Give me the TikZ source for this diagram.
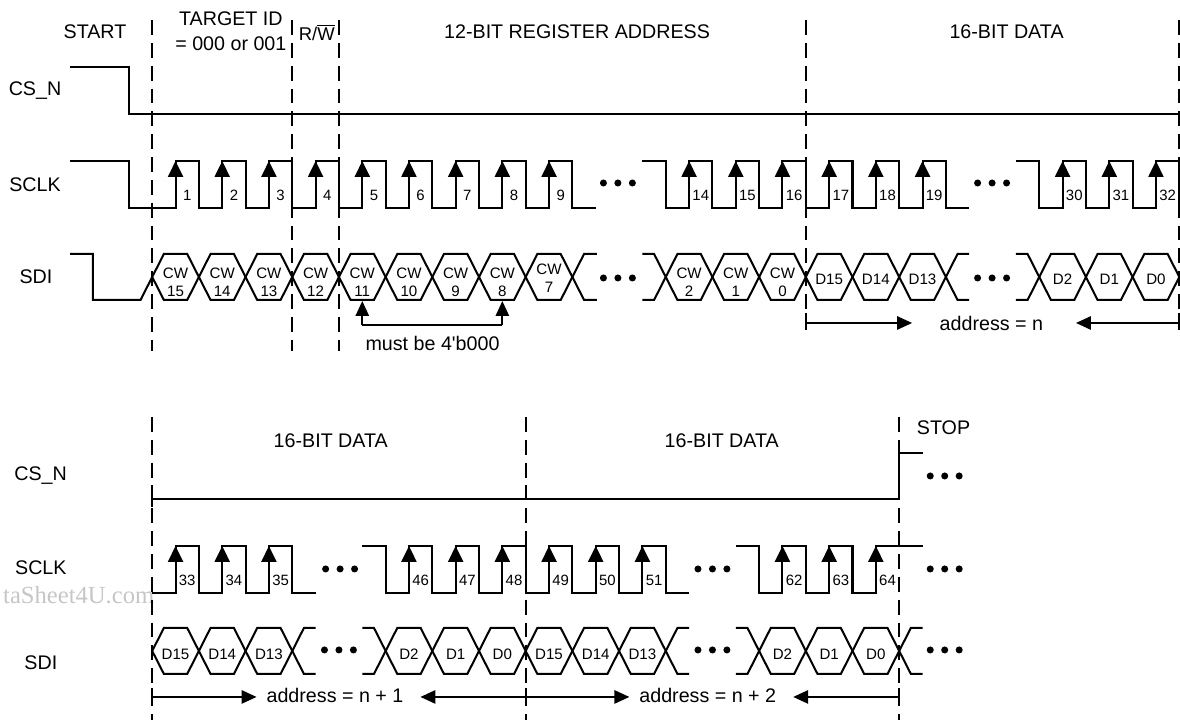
\documentclass[tikz,border=0pt]{standalone}
\usepackage{fontspec}
\setmainfont{Liberation Sans}
\newfontfamily\markfont{Liberation Serif}
\usetikzlibrary{arrows.meta}

\newcommand{\buscell}[6][0]{%
  \draw[sig] (#2,{(#3+#4)/2}) -- (#2+0.5,#3) -- (#2+1.5,#3) -- (#2+2,{(#3+#4)/2})
    -- (#2+1.5,#4) -- (#2+0.5,#4) -- cycle;
  \node[bit] (#5) at (#2+1,{(#3+#4)/2+#1}) {#6};}
\newcommand{\threedots}[2]{%
  \foreach \k in {-0.62,0,0.62}{\fill (#1+\k,#2) circle (2pt);}}

\begin{document}
\begin{tikzpicture}[x=0.467cm,y=-0.02cm,
    sig/.style={line width=1.15pt},
    guide/.style={line width=1.15pt,dash pattern=on 8.5pt off 4.5pt},
    lbl/.style={font=\fontsize{11.2}{14.5}\selectfont,inner sep=1pt},
    num/.style={font=\fontsize{8.5}{9}\selectfont,inner sep=0pt,anchor=base},
    bit/.style={font=\fontsize{8.6}{10.2}\selectfont,inner sep=0pt,align=center},
    riser/.style={line width=1.15pt,-{Triangle[length=9pt,width=8.5pt]}},
    span/.style={line width=1.15pt,-{Triangle[length=8.5pt,width=7.5pt]}}
  ]
  \useasboundingbox (-6.52,0) rectangle (44.03,720);

  \node[lbl] (start) at (-2.45,32) {START};
  \node[lbl,align=center] (target) at (3.37,31) {TARGET ID\\= 000 or 001};
  \node[lbl,font=\fontsize{10.5}{12}\selectfont] (rw) at (7.05,32) {R/$\overline{\mbox{W}}$};
  \node[lbl] (regaddr) at (18.2,32) {12-BIT REGISTER ADDRESS};
  \node[lbl] (data0) at (36.6,32) {16-BIT DATA};
  \node[lbl] (csn1) at (-5.02,91) {CS\_N};
  \node[lbl] (sclk1) at (-5.02,185) {SCLK};
  \node[lbl] (sdi1) at (-4.98,277) {SDI};

  \foreach \u in {0,6,8} \draw[guide] (\u,20) -- (\u,351);
  \foreach \u in {28,44} \draw[guide] (\u,20) -- (\u,328);

  \draw[sig] (-3.52,67) -- (-1,67) -- (-1,114) -- (44.03,114);

  \draw[sig] (-3.52,161) -- (-1,161) -- (-1,208) -- (1,208)
    \foreach \r in {1,3,...,17} { -- (\r,161) -- (\r+1,161) -- (\r+1,208) -- (\r+2,208) };
  \draw[sig] (21,161) -- (22,161) -- (22,208) -- (23,208)
    \foreach \r in {23,25,...,33} { -- (\r,161) -- (\r+1,161) -- (\r+1,208) -- (\r+2,208) };
  \draw[sig] (37,161) -- (38,161) -- (38,208) -- (39,208)
    \foreach \r in {39,41} { -- (\r,161) -- (\r+1,161) -- (\r+1,208) -- (\r+2,208) }
    -- (43,161) -- (44,161) -- (44,208);
  \foreach \r/\n in {1/1,3/2,5/3,7/4,9/5,11/6,13/7,15/8,17/9,23/14,25/15,27/16,29/17,31/18,33/19,39/30,41/31,43/32}{
    \draw[riser] (\r,208) -- (\r,161);
    \node[num] (c\n) at (\r+0.5,201) {\n};
  }
  \threedots{19.95}{183}
  \threedots{35.98}{183}

  \draw[sig] (-3.52,254) -- (-2.54,254) -- (-2.54,300) -- (-0.5,300) -- (0,277);
  \foreach \a/\b in {0/15,2/14,4/13,6/12,8/11,10/10,12/9,14/8}{\buscell[5]{\a}{254}{300}{cw\b}{CW\\\b}}
  \buscell[1]{16}{254}{300}{cw7}{CW\\7}
  \draw[sig] (19.05,254) -- (18.5,254) -- (18,277) -- (18.5,300) -- (19.05,300);
  \draw[sig] (21,254) -- (21.5,254) -- (22,277) -- (21.5,300) -- (21,300);
  \foreach \a/\b in {22/2,24/1,26/0}{\buscell[5]{\a}{254}{300}{cw\b}{CW\\\b}}
  \foreach \a/\b in {28/15,30/14,32/13}{\buscell[2]{\a}{254}{300}{td\b}{D\b}}
  \draw[sig] (35,254) -- (34.5,254) -- (34,277) -- (34.5,300) -- (35,300);
  \draw[sig] (37,254) -- (37.5,254) -- (38,277) -- (37.5,300) -- (37,300);
  \foreach \a/\b in {38/2,40/1,42/0}{\buscell[2]{\a}{254}{300}{td\b}{D\b}}
  \threedots{19.95}{278}
  \threedots{35.98}{278}

  \coordinate (m11) at (9,325);
  \coordinate (m8) at (15,325);
  \draw[sig] (m11) -- (m8);
  \draw[span] (m11) -- (cw11 |- 0,301);
  \draw[span] (m8) -- (cw8 |- 0,301);
  \node[lbl,anchor=west] (must) at (9.05,343) {must be 4\textquotesingle b000};

  \draw[sig] (28,313) -- (28,330);
  \draw[sig] (44,313) -- (44,330);
  \coordinate (n0) at (28,323);
  \coordinate (n1) at (44,323);
  \node[lbl] (addrn) at (35.95,323) {address = n};
  \draw[span,shorten >=14.5pt] (n0) -- (addrn.west);
  \draw[span,shorten >=17.5pt] (n1) -- (addrn.east);

  \node[lbl] (data1) at (7.65,441) {16-BIT DATA};
  \node[lbl] (data2) at (24.4,441) {16-BIT DATA};
  \node[lbl] (stop) at (33.9,428) {STOP};
  \node[lbl] (csn2) at (-4.78,476) {CS\_N};
  \node[lbl] (sclk2) at (-4.77,568) {SCLK};
  \node[lbl] (sdi2) at (-4.77,663) {SDI};
  \node[font=\markfont\fontsize{14}{16}\selectfont,text=gray!45,anchor=base east,inner sep=0pt] (mark) at (0.1,604) {taSheet4U.com};

  \foreach \u in {0,16,32} \draw[guide] (\u,417) -- (\u,720);

  \draw[sig] (0,491) -- (0,507);
  \draw[sig] (0,499) -- (32,499) -- (32,453) -- (33,453);
  \threedots{33.95}{476}

  \draw[sig] (0,593) -- (1,593)
    \foreach \r in {1,3,5} { -- (\r,546) -- (\r+1,546) -- (\r+1,593) -- (\r+2,593) };
  \draw[sig] (9,546) -- (10,546) -- (10,593) -- (11,593)
    \foreach \r in {11,13,...,21} { -- (\r,546) -- (\r+1,546) -- (\r+1,593) -- (\r+2,593) };
  \draw[sig] (25,546) -- (26,546) -- (26,593) -- (27,593)
    \foreach \r in {27,29} { -- (\r,546) -- (\r+1,546) -- (\r+1,593) -- (\r+2,593) }
    -- (31,546) -- (33,546);
  \foreach \r/\n in {1/33,3/34,5/35,11/46,13/47,15/48,17/49,19/50,21/51,27/62,29/63,31/64}{
    \draw[riser] (\r,593) -- (\r,546);
    \node[num] (c\n) at (\r+0.5,586) {\n};
  }
  \threedots{8.05}{569}
  \threedots{24}{569}
  \threedots{33.95}{569}

  \foreach \a/\b in {0/15,2/14,4/13}{\buscell[3]{\a}{628}{674}{ba\b}{D\b}}
  \draw[sig] (7,628) -- (6.5,628) -- (6,651) -- (6.5,674) -- (7,674);
  \draw[sig] (9,628) -- (9.5,628) -- (10,651) -- (9.5,674) -- (9,674);
  \foreach \a/\b in {10/2,12/1,14/0}{\buscell[3]{\a}{628}{674}{ba\b}{D\b}}
  \foreach \a/\b in {16/15,18/14,20/13}{\buscell[3]{\a}{628}{674}{bb\b}{D\b}}
  \draw[sig] (23,628) -- (22.5,628) -- (22,651) -- (22.5,674) -- (23,674);
  \draw[sig] (25,628) -- (25.5,628) -- (26,651) -- (25.5,674) -- (25,674);
  \foreach \a/\b in {26/2,28/1,30/0}{\buscell[3]{\a}{628}{674}{bb\b}{D\b}}
  \draw[sig] (33,628) -- (32.5,628) -- (32,651) -- (32.5,674) -- (33,674);
  \threedots{8}{650}
  \threedots{24}{650}
  \threedots{33.95}{650}

  \foreach \u in {0,16,32} \draw[sig] (\u,688) -- (\u,706);
  \coordinate (a0) at (0,697);
  \coordinate (a1) at (16,697);
  \coordinate (a2) at (32,697);
  \node[lbl] (addr1) at (7.83,696) {address = n + 1};
  \node[lbl] (addr2) at (23.8,696) {address = n + 2};
  \draw[span,shorten >=4.5pt] (a0) -- (a0 -| addr1.west);
  \draw[span,shorten >=8.5pt] (a1) -- (a1 -| addr1.east);
  \draw[span,shorten >=4.5pt] (a1) -- (a1 -| addr2.west);
  \draw[span,shorten >=8.5pt] (a2) -- (a2 -| addr2.east);
\end{tikzpicture}
\end{document}
